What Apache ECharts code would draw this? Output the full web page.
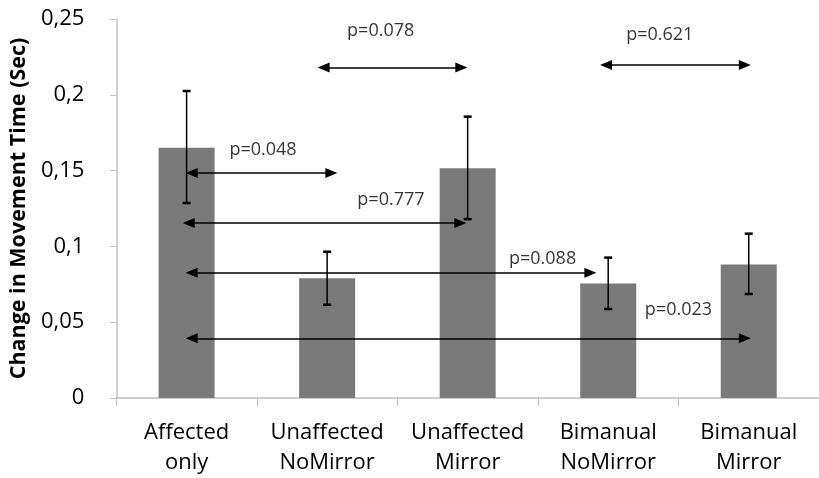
<!DOCTYPE html>
<html><head><meta charset="utf-8">
<script src="https://cdn.jsdelivr.net/npm/echarts@6/dist/echarts.min.js"></script>
<style>html,body{margin:0;padding:0;background:#fff}#c{width:819px;height:478px}</style>
</head><body><div id="c"></div>
<script>
var categories = ['Affected\nonly','Unaffected\nNoMirror','Unaffected\nMirror','Bimanual\nNoMirror','Bimanual\nMirror'];
var means = [0.165, 0.079, 0.1515, 0.0755, 0.088];
var errLow = [0.1286, 0.0615, 0.118, 0.0587, 0.0686];
var errHigh = [0.2025, 0.0965, 0.1856, 0.0926, 0.1084];
var yTicks = [0, 0.05, 0.1, 0.15, 0.2, 0.25];

var pLabels = ['p=0.048','p=0.777','p=0.078','p=0.621','p=0.088','p=0.023'];
var arrowFrom = [0.536, 0.515, 1.475, 3.485, 0.536, 0.536];
var arrowTo = [1.53, 2.448, 2.455, 4.472, 3.373, 4.472];
var arrowY = [0.1484, 0.1154, 0.218, 0.2197, 0.0826, 0.0394];
var labelX = [1.044, 1.954, 1.881, 3.867, 3.033, 4.0];
var labelY = [0.1636, 0.1306, 0.2421, 0.2394, 0.0917, 0.058];

var chart = echarts.init(document.getElementById('c'), null, {renderer:'canvas'});
var errData = means.map(function(m,i){ return [i, errLow[i], errHigh[i]]; });
var arrowLines = pLabels.map(function(p,i){ return [{coord:[arrowFrom[i], arrowY[i]]},{coord:[arrowTo[i], arrowY[i]]}]; });
var labelData = pLabels.map(function(p,i){ return {name:p, value:[labelX[i], labelY[i]]}; });
var axisFont = '"Open Sans", sans-serif';

chart.setOption({
  animation: false,
  backgroundColor: '#fff',
  grid: {left: 110, top: 19, width: 714, height: 379, containLabel: false},
  xAxis: [{
    type: 'category', data: categories,
    axisLine: {lineStyle: {color: '#bfbfbf', width: 1.5}},
    axisTick: {show: true, length: 8, lineStyle: {color: '#bfbfbf'}},
    axisLabel: {color: '#000', fontFamily: axisFont, fontSize: 22, lineHeight: 30, margin: 20, interval: 0}
  },{
    type: 'value', min: 0, max: 5, show: false
  }],
  yAxis: [{
    type: 'value', min: 0, max: 0.25, interval: 0.05,
    name: 'Change in Movement Time (Sec)', nameLocation: 'middle', nameGap: 82,
    nameTextStyle: {color: '#000', fontFamily: axisFont, fontSize: 21.5, fontWeight: 'bold'},
    axisLine: {show: true, lineStyle: {color: '#bfbfbf', width: 1.5}},
    axisTick: {show: true, length: 6, lineStyle: {color: '#bfbfbf'}},
    splitLine: {show: false},
    axisLabel: {color: '#000', fontFamily: axisFont, fontSize: 22, margin: 32,
      formatter: function(v){ return String(+v.toFixed(2)).replace('.', ','); }}
  }],
  series: [{
    type: 'bar', data: means, barWidth: 56,
    itemStyle: {color: '#7a7a7a'}, silent: true
  },{
    type: 'custom', data: errData, encode: {x: 0, y: [1,2]}, z: 5,
    renderItem: function(params, api){
      var lo = api.coord([api.value(0), api.value(1)]);
      var hi = api.coord([api.value(0), api.value(2)]);
      var w = 4;
      var st = {stroke: '#000', lineWidth: 1.5};
      return {type: 'group', children: [
        {type: 'line', shape: {x1: lo[0], y1: lo[1], x2: hi[0], y2: hi[1]}, style: st},
        {type: 'line', shape: {x1: hi[0]-w, y1: hi[1], x2: hi[0]+w, y2: hi[1]}, style: {stroke:'#000', lineWidth: 2.5}},
        {type: 'line', shape: {x1: lo[0]-w, y1: lo[1], x2: lo[0]+w, y2: lo[1]}, style: {stroke:'#000', lineWidth: 2.5}}
      ]};
    }
  },{
    type: 'line', xAxisIndex: 1, yAxisIndex: 0, data: [], z: 6,
    markLine: {
      silent: true, animation: false,
      symbol: ['triangle','triangle'], symbolSize: [10, 12],
      lineStyle: {color: '#000', width: 1.5, type: 'solid'},
      label: {show: false},
      data: arrowLines
    }
  },{
    type: 'scatter', xAxisIndex: 1, yAxisIndex: 0, data: labelData, symbolSize: 0, z: 7, silent: true,
    label: {show: true, position: 'inside', formatter: '{b}', color: '#000',
      fontFamily: '"Open Sans", sans-serif', fontSize: 18}
  }]
});
</script></body></html>
